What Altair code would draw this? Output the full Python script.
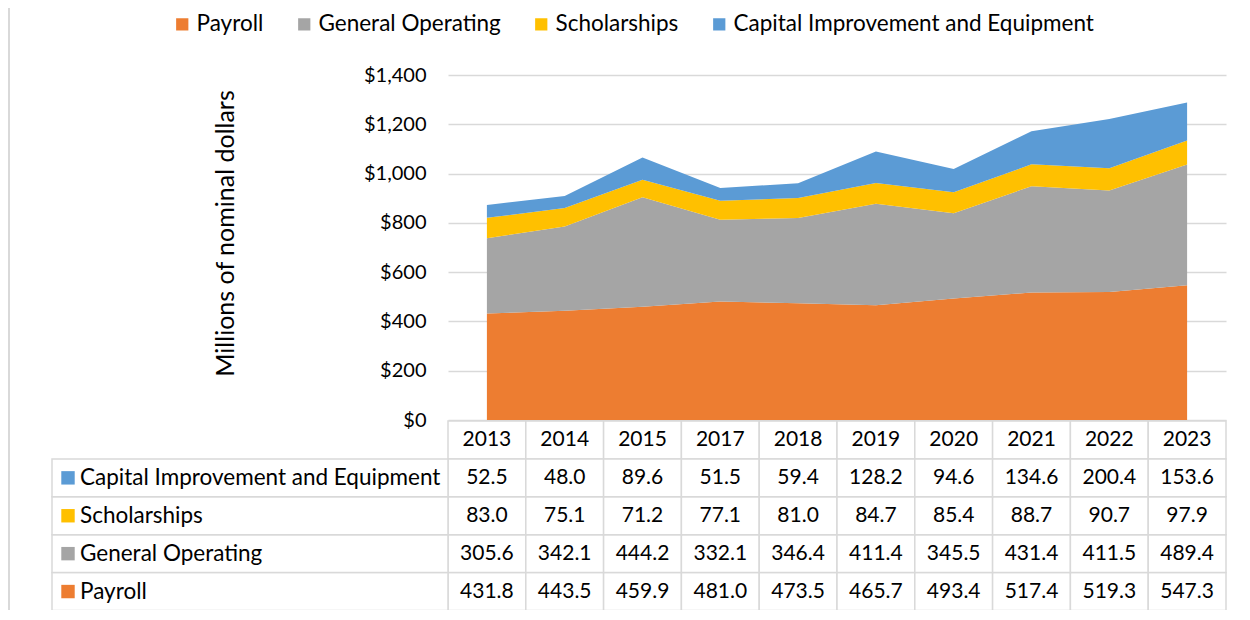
import altair as alt
import pandas as pd

years = ["2013", "2014", "2015", "2017", "2018", "2019", "2020", "2021", "2022", "2023"]
series = ["Payroll", "General Operating", "Scholarships", "Capital Improvement and Equipment"]
payroll = [431.8, 443.5, 459.9, 481.0, 473.5, 465.7, 493.4, 517.4, 519.3, 547.3]
general = [305.6, 342.1, 444.2, 332.1, 346.4, 411.4, 345.5, 431.4, 411.5, 489.4]
scholar = [83.0, 75.1, 71.2, 77.1, 81.0, 84.7, 85.4, 88.7, 90.7, 97.9]
capital = [52.5, 48.0, 89.6, 51.5, 59.4, 128.2, 94.6, 134.6, 200.4, 153.6]
colors = ["#ED7D31", "#A5A5A5", "#FFC000", "#5B9BD5"]
y_ticks = [0, 200, 400, 600, 800, 1000, 1200, 1400]

FONT = "Lato"
FS_TXT = 22.5
FS_NUM = 21
GRID = "#d9d9d9"

values = [payroll, general, scholar, capital]
rows = []
for i, (s, vals) in enumerate(zip(series, values)):
    for y, v in zip(years, vals):
        rows.append({"year": y, "series": s, "row": s, "value": v, "idx": i})
df = pd.DataFrame(rows)

table_rows = ["Years"] + series[::-1]
header_df = pd.DataFrame({"year": years, "row": ["Years"] * len(years)})
cells_df = pd.concat([header_df, df[["year", "row"]]], ignore_index=True)
labels_df = pd.DataFrame({"row": series, "series": series})

x_area = alt.X("year:N", sort=years, scale=alt.Scale(type="point", padding=0.5), axis=None)
x_tab = alt.X("year:N", sort=years,
              scale=alt.Scale(type="band", domain=years, paddingInner=0, paddingOuter=0), axis=None)
y_tab = alt.Y("row:N", sort=table_rows,
              scale=alt.Scale(type="band", domain=table_rows, range=[346, 535.5],
                              paddingInner=0, paddingOuter=0), axis=None)
color_enc = alt.Color(
    "series:N",
    scale=alt.Scale(domain=series, range=colors),
    legend=alt.Legend(
        title=None, orient="none", direction="horizontal", columns=4,
        legendX=-277, legendY=-62, symbolType="square", symbolSize=150,
        symbolStrokeWidth=0, labelFont=FONT, labelFontSize=FS_TXT, labelColor="#000000",
        labelOffset=3, columnPadding=29, labelLimit=500,
    ),
)

area = alt.Chart(df).mark_area(opacity=1).encode(
    x=x_area,
    y=alt.Y(
        "value:Q", stack="zero",
        scale=alt.Scale(domain=[0, 1400], nice=False),
        axis=alt.Axis(
            values=y_ticks, format="$,.0f", title="Millions of nominal dollars",
            grid=True, gridColor=GRID, gridWidth=1.5, ticks=False, domain=False,
            labelFont=FONT, labelFontSize=20, labelColor="#000000", labelPadding=22,
            titleFont=FONT, titleFontSize=25, titleFontWeight="normal", titleColor="#000000",
            titleX=-223, titleY=158, titleAlign="center", titleBaseline="middle",
        ),
    ),
    color=color_enc,
    order=alt.Order("idx:Q", sort="ascending"),
)

cells = alt.Chart(cells_df).mark_rect(fill="white", stroke=GRID, strokeWidth=1.5).encode(
    x=x_tab, y=y_tab
)
label_cells = alt.Chart(labels_df).mark_rect(fill="white", stroke=GRID, strokeWidth=1.5).encode(
    x=alt.value(-396), x2=alt.value(0), y=y_tab
)
squares = alt.Chart(labels_df).mark_square(size=180, opacity=1).encode(
    x=alt.value(-380), y=y_tab, color=color_enc
)
label_text = alt.Chart(labels_df).mark_text(
    align="left", baseline="middle", font=FONT, fontSize=FS_TXT, color="#000000"
).encode(x=alt.value(-368), y=y_tab, text="row:N")
value_text = alt.Chart(df).mark_text(
    align="center", baseline="middle", font=FONT, fontSize=FS_NUM, color="#000000"
).encode(x=x_tab, y=y_tab, text=alt.Text("value:Q", format=".1f"))
header_text = alt.Chart(header_df).mark_text(
    align="center", baseline="middle", font=FONT, fontSize=FS_NUM, color="#000000"
).encode(x=x_tab, y=y_tab, text="year:N")
border = alt.Chart(labels_df.head(1)).mark_rule(color=GRID, strokeWidth=2).encode(
    x=alt.value(-439), y=alt.value(-67), y2=alt.value(535)
)

chart = alt.layer(
    area, cells, label_cells, squares, label_text, value_text, header_text, border
).resolve_scale(
    x="independent", y="independent"
).properties(
    width=778, height=345,
    autosize=alt.AutoSizeParams(type="none"),
    padding={"left": 440, "top": 67, "right": 16, "bottom": 190},
).configure_view(stroke=None)

chart.save("out.html", embed_options={"renderer": "svg", "actions": False})
